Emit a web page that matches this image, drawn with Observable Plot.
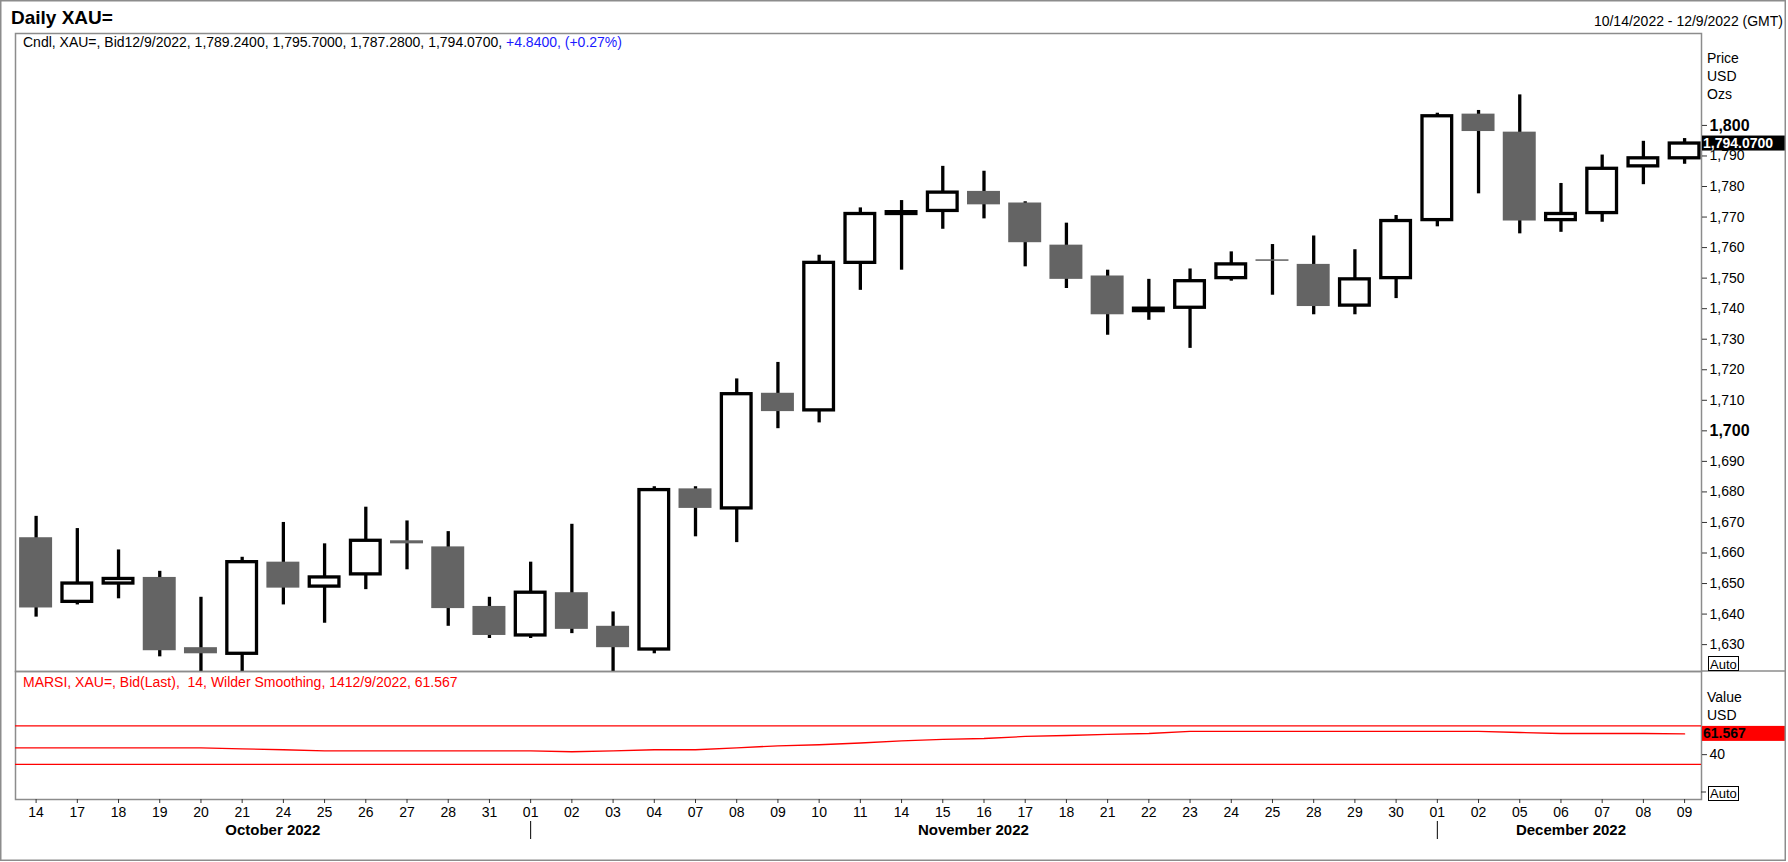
<!DOCTYPE html>
<html><head><meta charset="utf-8">
<script src="https://cdn.jsdelivr.net/npm/d3@7"></script>
<script src="https://cdn.jsdelivr.net/npm/@observablehq/plot@0.6"></script>
<style>
html,body{margin:0;padding:0;background:#fff;}
#wrap{position:relative;width:1788px;height:862px;overflow:hidden;font-family:"Liberation Sans",Arial,sans-serif;}
.abs{position:absolute;left:0;}
#ov{position:absolute;left:0;top:0;pointer-events:none;}
#ov text{white-space:pre;}
</style></head><body>
<div id="wrap">
  <div id="price" class="abs" style="top:0"></div>
  <div id="rsi" class="abs" style="top:671px"></div>
</div>
<script>
// ---- data ----
const dates = ["2022-10-14","2022-10-17","2022-10-18","2022-10-19","2022-10-20","2022-10-21","2022-10-24","2022-10-25","2022-10-26","2022-10-27","2022-10-28","2022-10-31","2022-11-01","2022-11-02","2022-11-03","2022-11-04","2022-11-07","2022-11-08","2022-11-09","2022-11-10","2022-11-11","2022-11-14","2022-11-15","2022-11-16","2022-11-17","2022-11-18","2022-11-21","2022-11-22","2022-11-23","2022-11-24","2022-11-25","2022-11-28","2022-11-29","2022-11-30","2022-12-01","2022-12-02","2022-12-05","2022-12-06","2022-12-07","2022-12-08","2022-12-09"];
const opens  = [1665,1644,1650,1652,1629,1627,1657,1649,1653,1664,1662,1642.5,1633,1647,1636,1628.4,1681,1674.6,1712.3,1706.7,1755,1771,1772,1778.4,1774.6,1760.8,1750.7,1739.2,1740.3,1750,1756,1754.5,1741,1750,1769,1803.7,1797.8,1769,1771.3,1786.6,1789.24];
const highs  = [1672,1668,1661,1654,1645.5,1658.6,1670,1663,1675,1670.5,1667,1645.5,1657,1669.4,1640.7,1681.7,1681.7,1717,1722.4,1757.5,1773,1775.4,1786.6,1785,1775,1768,1752.6,1749.6,1753,1758.6,1761,1763.8,1759.3,1770.5,1804,1804.9,1810,1781,1790.3,1794.8,1795.7];
const lows   = [1639,1643,1645,1626,1617.3,1617.4,1643,1637,1648,1654.5,1636,1632,1632,1633.6,1616.7,1627,1665.3,1663.4,1700.7,1702.6,1746,1752.6,1766,1769.4,1753.7,1746.6,1731.3,1736.2,1727,1749,1744.4,1738,1738,1743.3,1766.8,1777.6,1764.5,1765,1768.3,1780.6,1787.28];
const closes = [1642,1650,1651.5,1628,1627,1657,1648.5,1652,1664,1663,1641.8,1633,1647,1635,1629,1680.6,1674.6,1712,1706.3,1755,1771,1771.6,1778,1774,1761.6,1749.6,1738,1740.0,1749,1754.5,1755.5,1740.7,1749.6,1768.7,1803,1798,1768.7,1771,1785.8,1789.23,1794.07];
const rsiPrev = 47.1; // value on the day before the first candle (line enters from the left edge)
const rsiValues = [47.1,47.1,47.1,47.1,47.1,46.1,45.1,44.0,44.0,44.0,44.0,44.0,44.0,43.0,44.0,45.1,45.1,47.1,49.2,50.3,52.1,54.4,55.8,56.8,58.9,59.9,61.0,62.0,64.1,64.1,64.1,64.1,64.1,64.1,64.1,64.1,63.0,62.0,62.0,62.0,61.567];
const rsiBands = [70, 30];
const priceTicks = d3.range(1630, 1801, 10);
const boldTicks = [1700, 1800];
const rsiTicks = [40];

// ---- derived ----
const parse = d3.utcParse("%Y-%m-%d");
const dd = dates.map(parse);
const candles = dates.map((d, i) => ({i, open: opens[i], high: highs[i], low: lows[i], close: closes[i], up: closes[i] >= opens[i]}));
const dayLabels = dd.map(d3.utcFormat("%d"));
const monthKey = d3.utcFormat("%Y-%m");
const months = d3.groups(candles, d => monthKey(dd[d.i])).map(([k, arr]) => ({
  label: d3.utcFormat("%B %Y")(dd[arr[0].i]),
  i: d3.mean(arr, d => d.i),
  start: arr[0].i
}));
const monthStarts = months.slice(1).map(m => m.start);
const rsiSeries = [{i: -1, v: rsiPrev}, ...rsiValues.map((v, i) => ({i, v}))];
const last = candles.length - 1;
const fmt4 = d3.format(",.4f");
const HALF = 0.4;
const FONT = "Liberation Sans, Arial, sans-serif";

function tag(value, label, bg, fg) {
  return (index, scales, values, dims) => {
    const y = scales.y(value);
    const x0 = dims.width - dims.marginRight + 1;
    const g = d3.create("svg:g");
    g.append("rect").attr("x", x0).attr("y", y - 7.5).attr("width", 83).attr("height", 15).attr("fill", bg);
    g.append("text").attr("x", x0 + 1).attr("y", y).attr("dy", "0.36em").attr("text-anchor", "start")
      .attr("fill", fg).attr("font-weight", "bold").attr("font-size", 14).attr("font-family", FONT).text(label);
    return g.node();
  };
}

// ---- price panel ----
const price = Plot.plot({
  width: 1788, height: 671, marginTop: 33, marginBottom: 0, marginLeft: 15, marginRight: 87,
  style: {fontFamily: FONT, color: "#000", background: "transparent", overflow: "visible"},
  x: {type: "linear", domain: [-0.5, 40.41], axis: null, label: null},
  y: {domain: [1621.2, 1830.1], axis: null, label: null},
  marks: [
    Plot.frame({stroke: "#8c8c8c", strokeWidth: 1.5}),
    Plot.axisY(priceTicks.filter(v => !boldTicks.includes(v)), {anchor: "right", label: null, tickSize: 5, tickPadding: 3, fontSize: 14, tickFormat: d3.format(","), stroke: "#333"}),
    Plot.axisY(boldTicks, {anchor: "right", label: null, tickSize: 5, tickPadding: 3, fontSize: 16, fontWeight: "bold", tickFormat: d3.format(","), stroke: "#333"}),
    Plot.ruleX(candles, {x: "i", y1: "low", y2: "high", stroke: "#000", strokeWidth: 3.3, clip: true}),
    Plot.rect(candles.filter(d => !d.up), {x1: d => d.i - HALF, x2: d => d.i + HALF, y1: "open", y2: "close", fill: "#646464"}),
    Plot.rect(candles.filter(d => d.up), {x1: d => d.i - HALF, x2: d => d.i + HALF, y1: "open", y2: "close", fill: "#fff", stroke: "#000", strokeWidth: 3.3, insetLeft: 1.65, insetRight: 1.65}),
    tag(closes[last], fmt4(closes[last]), "#000", "#fff")
  ]
});
document.getElementById("price").append(price);

// ---- RSI panel ----
const rsi = Plot.plot({
  width: 1788, height: 191, marginTop: 0, marginBottom: 63, marginLeft: 15, marginRight: 87,
  style: {fontFamily: FONT, color: "#000", background: "transparent", overflow: "visible"},
  x: {type: "linear", domain: [-0.5, 40.41], axis: null, label: null},
  y: {domain: [-6.6, 126.4], axis: null, label: null},
  marks: [
    Plot.frame({stroke: "#8c8c8c", strokeWidth: 1.5}),
    Plot.ruleY(rsiBands, {stroke: "#ff0000", strokeWidth: 1.2}),
    Plot.line(rsiSeries, {x: "i", y: "v", stroke: "#ff0000", strokeWidth: 1.3, clip: true}),
    Plot.axisY(rsiTicks, {anchor: "right", label: null, tickSize: 5, tickPadding: 3, fontSize: 14, stroke: "#333"}),
    Plot.axisX(d3.range(candles.length), {anchor: "bottom", label: null, tickSize: 4, tickPadding: 4, fontSize: 14, tickFormat: i => dayLabels[i], stroke: "#333"}),
    Plot.text(months, {x: "i", text: "label", frameAnchor: "bottom", lineAnchor: "middle", dy: 31, dx: 10, fontWeight: "bold", fontSize: 15, fill: "#000"}),
    Plot.ruleX(monthStarts, {insetTop: 150, insetBottom: -40, stroke: "#000", strokeWidth: 1}),
    tag(rsiValues[last], d3.format(".3f")(rsiValues[last]), "#ff0000", "#000")
  ]
});
document.getElementById("rsi").append(rsi);

// ---- header / decorations ----
const chg = closes[last] - closes[last - 1];
const pct = chg / closes[last - 1] * 100;
const mdY = d3.utcFormat("%-m/%-d/%Y");
const ov = d3.select("#wrap").append("svg").attr("id", "ov").attr("width", 1788).attr("height", 862)
  .attr("font-family", FONT);
ov.append("rect").attr("x", 0.75).attr("y", 0.75).attr("width", 1784.5).attr("height", 859.5)
  .attr("fill", "none").attr("stroke", "#8c8c8c").attr("stroke-width", 1.5);
ov.append("line").attr("x1", 1701).attr("x2", 1785).attr("y1", 671).attr("y2", 671).attr("stroke", "#8c8c8c").attr("stroke-width", 1.5);
ov.append("text").attr("x", 11).attr("y", 24).attr("font-size", 19).attr("font-weight", "bold").text("Daily XAU=");
ov.append("text").attr("x", 1783).attr("y", 26).attr("font-size", 14).attr("text-anchor", "end")
  .text(`${mdY(dd[0])} - ${mdY(dd[last])} (GMT)`);
const info = ov.append("text").attr("x", 23).attr("y", 47).attr("font-size", 14);
info.append("tspan").text(`Cndl, XAU=, Bid${mdY(dd[last])}, ${fmt4(opens[last])}, ${fmt4(highs[last])}, ${fmt4(lows[last])}, ${fmt4(closes[last])}, `);
info.append("tspan").attr("fill", "#1a1aff").text(`${d3.format("+.4f")(chg)}, (${d3.format("+.2f")(pct)}%)`);
[["Price", 63], ["USD", 81], ["Ozs", 99], ["Value", 701.5], ["USD", 720]].forEach(([t, y]) =>
  ov.append("text").attr("x", 1707).attr("y", y).attr("font-size", 14).text(t));
ov.append("text").attr("x", 23).attr("y", 687).attr("font-size", 14).attr("fill", "#ff0000")
  .text(`MARSI, XAU=, Bid(Last),  14, Wilder Smoothing, 14${mdY(dd[last])}, ${d3.format(".3f")(rsiValues[last])}`);
// Auto buttons
[[656, 669], [786, 797.5]].forEach(([top, base], k) => {
  ov.append("rect").attr("x", 1708.5).attr("y", top + 0.5).attr("width", 30).attr("height", 14).attr("fill", "#fff").attr("stroke", "#000");
  ov.append("text").attr("x", 1710).attr("y", base).attr("font-size", 13).text("Auto");
  if (k === 1) ov.append("line").attr("x1", 1701).attr("x2", 1706).attr("y1", 792).attr("y2", 792).attr("stroke", "#333");
});
</script>
</body></html>
